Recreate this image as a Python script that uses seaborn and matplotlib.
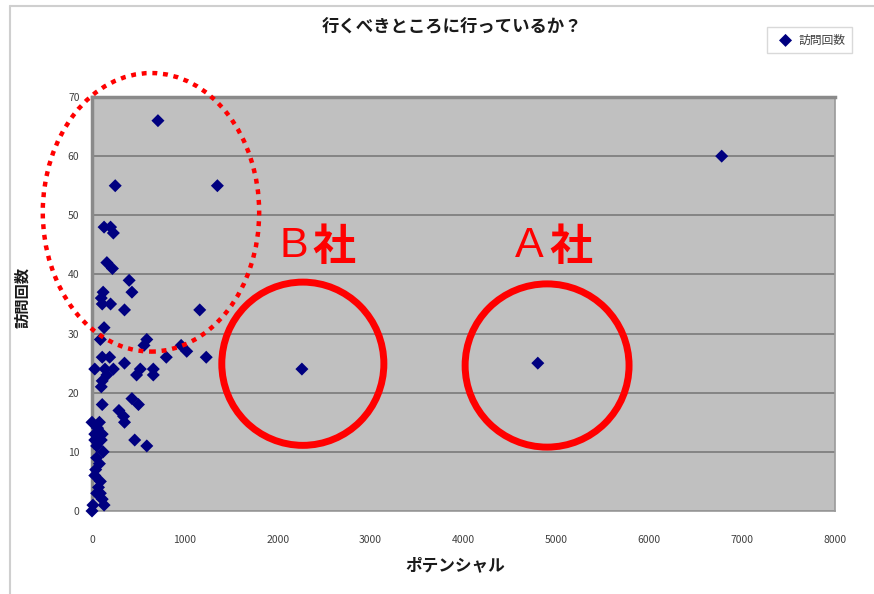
import matplotlib
matplotlib.use("Agg")
import matplotlib.pyplot as plt
from matplotlib.patches import Ellipse
from matplotlib.lines import Line2D
import seaborn as sns
import pandas as pd

# ポテンシャル (x) と 訪問回数 (y)
potential = [
    710, 6780, 250, 1350,
    130, 200, 230, 160, 220, 400, 430,
    120, 100, 200, 110, 350, 1160,
    130, 90, 590, 560, 960, 1020, 1230, 800,
    350, 520, 660, 660, 480,
    110, 190, 30, 140, 230, 110, 160, 100,
    2260, 4800,
    110, 430, 500, 290, 340, 350, 460, 590,
    0, 80, 30, 110, 30, 100, 50, 120, 50, 80, 30, 90, 50, 110, 130, 10, 0,
    60, 40, 70, 90,
]
visits = [
    66, 60, 55, 55,
    48, 48, 47, 42, 41, 39, 37,
    37, 36, 35, 35, 34, 34,
    31, 29, 29, 28, 28, 27, 26, 26,
    25, 24, 24, 23, 23,
    26, 26, 24, 24, 24, 22, 23, 21,
    24, 25,
    18, 19, 18, 17, 16, 15, 12, 11,
    15, 15, 13, 13, 12, 12, 11, 10, 9, 8, 6, 5, 3, 2, 1, 1, 0,
    14, 7, 4, 3,
]
x_ticks = [0, 1000, 2000, 3000, 4000, 5000, 6000, 7000, 8000]
y_ticks = [0, 10, 20, 30, 40, 50, 60, 70]

title = "行くべきところに行っているか？"
x_label = "ポテンシャル"
y_label = "訪問回数"
series_name = "訪問回数"

df = pd.DataFrame({"potential": potential, "visits": visits})

sns.set_style("white")
plt.rcParams["font.family"] = ["Noto Sans CJK JP", "DejaVu Sans"]

W, H = 874, 594
fig = plt.figure(figsize=(W / 100, H / 100), dpi=100)
ax = fig.add_axes([92 / W, 1 - 511 / H, (835 - 92) / W, (511 - 97) / H])

ax.set_facecolor("#c0c0c0")
ax.set_axisbelow(True)
ax.yaxis.grid(True, color="#7a7a7a", linewidth=1.2)
ax.xaxis.grid(False)

sns.scatterplot(data=df, x="potential", y="visits", marker="D", s=44,
                color="#000080", edgecolor="none", label=series_name, ax=ax,
                zorder=3, clip_on=False)

ax.set_xlim(0, 8000)
ax.set_ylim(0, 70)
ax.set_xticks(x_ticks)
ax.set_yticks(y_ticks)
ax.set_xticklabels([str(v) for v in x_ticks])
ax.set_yticklabels([str(v) for v in y_ticks])
ax.tick_params(axis="x", length=0, pad=17, labelsize=7.5, labelcolor="#404040")
ax.tick_params(axis="y", length=3, direction="in", pad=9, labelsize=7.5,
               labelcolor="#404040", color="#7a7a7a")
ax.set_xlabel("")
ax.set_ylabel("")

for side in ("top", "left"):
    ax.spines[side].set_color("#8a8a8a")
    ax.spines[side].set_linewidth(2.5)
for side in ("right", "bottom"):
    ax.spines[side].set_color("#9a9a9a")
    ax.spines[side].set_linewidth(1.2)

leg = ax.legend(loc="upper right", bbox_to_anchor=(852 / W, 1 - 27 / H),
                bbox_transform=fig.transFigure, frameon=True, fontsize=8.5,
                handletextpad=0.1, borderpad=0.55, markerscale=1.0,
                fancybox=False, borderaxespad=0)
leg.get_frame().set_edgecolor("#d0d0d0")
leg.get_frame().set_linewidth(1.0)
for t in leg.get_texts():
    t.set_color("#404040")

fig.text(452 / W, 1 - 27 / H, title, ha="center", va="center",
         fontsize=12.5, fontweight="bold", color="#1a1a1a")
fig.text(455 / W, 1 - 565 / H, x_label, ha="center", va="center",
         fontsize=12, fontweight="bold", color="#1a1a1a")
fig.text(22 / W, 1 - 297 / H, y_label, ha="center", va="center",
         rotation=90, fontsize=11, fontweight="bold", color="#1a1a1a")

# 外枠
fig.add_artist(Line2D([10 / W, 10 / W], [0, 1 - 6 / H], color="#cfcfcf",
                      linewidth=1.5, transform=fig.transFigure))
fig.add_artist(Line2D([10 / W, 1], [1 - 6 / H, 1 - 6 / H], color="#cfcfcf",
                      linewidth=1.5, transform=fig.transFigure))

# 注目ポイントの囲み
ax.add_patch(Ellipse((635, 50.5), 2330, 47.1, fill=False, edgecolor="#ff0000",
                     linewidth=3.2, linestyle=(0, (1.1, 1.3)), clip_on=False,
                     zorder=5))
ax.add_patch(Ellipse((2270, 24.9), 1745, 27.6, fill=False, edgecolor="#ff0000",
                     linewidth=5, clip_on=False, zorder=5))
ax.add_patch(Ellipse((4900, 24.6), 1765, 27.6, fill=False, edgecolor="#ff0000",
                     linewidth=5, clip_on=False, zorder=5))

latin = ["Liberation Sans", "DejaVu Sans"]
ax.text(2020, 42.9, "B", color="#ff0000", fontsize=31, family=latin,
        ha="left", va="baseline", zorder=6)
ax.text(2370, 42.5, "社", color="#ff0000", fontsize=31, fontweight="bold",
        ha="left", va="baseline", zorder=6)
ax.text(4550, 42.9, "A", color="#ff0000", fontsize=31, family=latin,
        ha="left", va="baseline", zorder=6)
ax.text(4930, 42.5, "社", color="#ff0000", fontsize=31, fontweight="bold",
        ha="left", va="baseline", zorder=6)

fig.savefig("out.png", dpi=100)
